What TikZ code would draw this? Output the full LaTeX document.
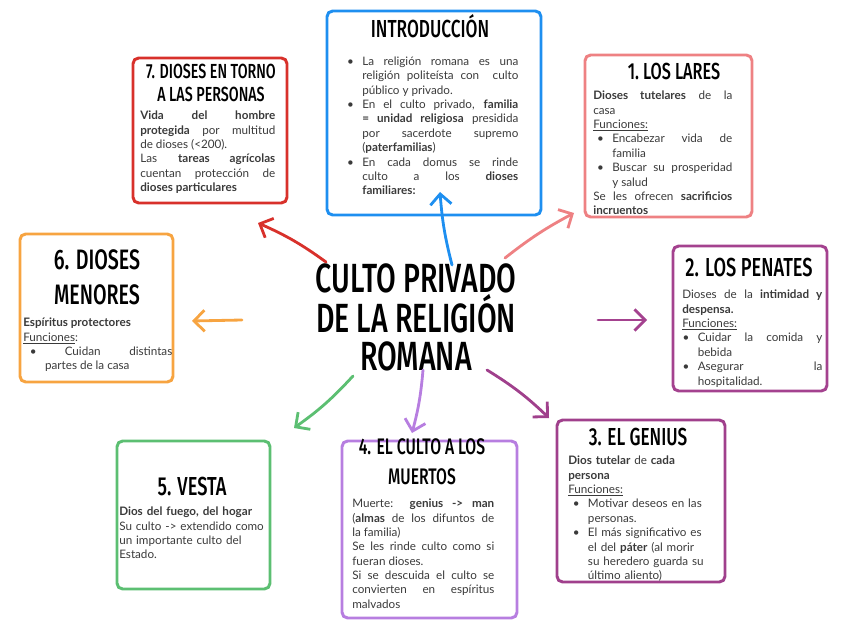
\documentclass[tikz,border=0pt]{standalone}
\usepackage{fontspec}
\setmainfont{Lato}
\newfontfamily\handfont[FakeStretch=0.7]{Fira Sans Medium}
\usepackage{enumitem}
\setlist[itemize]{label=\textbullet, labelsep=6pt, itemsep=0pt, topsep=0pt,
  parsep=0pt, partopsep=0pt}
\usetikzlibrary{arrows.meta,positioning,fit}

\definecolor{introblue}{HTML}{1E8FF0}
\definecolor{laressalmon}{HTML}{EE8183}
\definecolor{personasred}{HTML}{D8312B}
\definecolor{menoresorange}{HTML}{F7A441}
\definecolor{penatesplum}{HTML}{A4428F}
\definecolor{geniusplum}{HTML}{A0408C}
\definecolor{muertoslilac}{HTML}{B77EE0}
\definecolor{vestagreen}{HTML}{5CBF72}
\definecolor{bodygray}{HTML}{3A3A3A}

\newcommand{\bodysize}{\fontsize{8.3}{10.2}\selectfont
  \hyphenpenalty=10000 \exhyphenpenalty=10000 \tolerance=9999 \emergencystretch=30pt}

\begin{document}
\begin{tikzpicture}[x=0.025cm, y=-0.025cm,
  box/.style={draw=#1, line width=2.1pt, rounded corners=4pt, inner sep=0pt},
  heading/.style={anchor=base, inner sep=0pt, align=center,
                  font=\handfont\fontsize{#1}{#1}\selectfont},
  body/.style={anchor=north west, inner sep=0pt, text=bodygray,
               font=\bodysize, align=justify},
  link/.style={line width=2pt, line cap=round, draw=#1,
               -{Straight Barb[length=7.5pt, width=15pt, line width=2pt]}},
]
  \useasboundingbox (0,0) rectangle (848,636);

  % Center
  \node[heading=29, font=\handfont\fontsize{29}{26.5}\selectfont] (main) at (416,370)
    {CULTO PRIVADO\\DE LA RELIGIÓN\\ROMANA};

  % Introduccion
  \node[box=introblue, fit={(327,11) (541,215)}] (intro) {};
  \node[heading=17.5] (introtitle) at (430,38) {INTRODUCCIÓN};
  \node[body, text width=4.25cm] (introtext) at (348,51) {%
    \begin{itemize}[leftmargin=10pt]
    \item La religión romana es una\linebreak religión politeísta con\ \ culto\linebreak público y privado.
    \item En el culto privado, \textbf{familia}\linebreak \textbf{= unidad religiosa} presidida\linebreak por sacerdote supremo\linebreak (\textbf{paterfamilias})
    \item En cada domus se rinde\linebreak culto a los \textbf{dioses}\linebreak \textbf{familiares:}
    \end{itemize}};

  % 1. Los lares
  \node[box=laressalmon, fit={(585,55) (752,217)}] (lares) {};
  \node[heading=16.5] (larestitle) at (674,80) {1.\ LOS LARES};
  \node[body, text width=3.475cm] (larestext) at (593,91) {%
    \textbf{Dioses tutelares} de la\linebreak casa\par
    \underline{Funciones:}
    \begin{itemize}[leftmargin=13.5pt]
    \item Encabezar vida de\linebreak familia
    \item Buscar su prosperidad\linebreak y salud
    \end{itemize}
    Se les ofrecen \textbf{sacrificios}\linebreak \textbf{incruentos}};

  % 7. Dioses en torno a las personas
  \node[box=personasred, fit={(133,58) (287,203)}] (personas) {};
  \node[heading=14.5, font=\handfont\fontsize{14.5}{17}\selectfont] (personastitle) at (211,102)
    {7. DIOSES EN TORNO\\A LAS PERSONAS};
  \node[body, text width=3.375cm] (personastext) at (140,111) {%
    \textbf{Vida del hombre}\linebreak \textbf{protegida} por multitud\linebreak de dioses (<200).\par
    Las \textbf{tareas agrícolas}\linebreak cuentan protección de\linebreak \textbf{dioses particulares}};

  % 6. Dioses menores
  \node[box=menoresorange, fit={(20,234) (173,382)}] (menores) {};
  \node[heading=20, font=\handfont\fontsize{20}{25}\selectfont] (menorestitle) at (97,305)
    {6. DIOSES\\MENORES};
  \node[body, text width=3.725cm] (menorestext) at (23,318) {%
    \textbf{Espíritus protectores}\par
    \underline{Funciones}:
    \begin{itemize}[leftmargin=15.5pt]
    \item \hspace*{14pt}Cuidan distintas\linebreak partes de la casa
    \end{itemize}};

  % 2. Los penates
  \node[box=penatesplum, fit={(673,246) (827,391)}] (penates) {};
  \node[heading=18.5] (penatestitle) at (749,277) {2. LOS PENATES};
  \node[body, text width=3.5cm] (penatestext) at (682,290) {%
    Dioses de la \textbf{intimidad y}\linebreak \textbf{despensa.}\par
    \underline{Funciones:}
    \begin{itemize}[leftmargin=11pt]
    \item Cuidar la comida y\linebreak bebida
    \item Asegurar la\linebreak hospitalidad.
    \end{itemize}};

  % 3. El genius
  \node[box=geniusplum, fit={(557,420) (725,582)}] (genius) {};
  \node[heading=17.5] (geniustitle) at (638,445) {3. EL GENIUS};
  \node[body, text width=3.5cm, align=left] (geniustext) at (568,456) {%
    \textbf{Dios tutelar} de \textbf{cada}\\\textbf{persona}\par
    \underline{Funciones:}
    \begin{itemize}[leftmargin=14pt]
    \item Motivar deseos en las\\personas.
    \item El más significativo es\\el del \textbf{páter} (al morir\\su heredero guarda su\\último aliento)
    \end{itemize}};

  % 4. El culto a los muertos
  \node[box=muertoslilac, fit={(342,441) (517,618)}] (muertos) {};
  \node[heading=16, font=\handfont\fontsize{16}{21}\selectfont] (muertostitle) at (422,484)
    {4. EL CULTO A LOS\\MUERTOS};
  \node[body, text width=3.55cm] (muertostext) at (352,499) {%
    Muerte: \textbf{genius -> man}\linebreak (\textbf{almas} de los difuntos de\linebreak la familia)\par
    Se les rinde culto como si\linebreak fueran dioses.\par
    Si se descuida el culto se\linebreak convierten en espíritus\linebreak malvados};

  % 5. Vesta
  \node[box=vestagreen, fit={(117,441) (270,589)}] (vesta) {};
  \node[heading=18.5] (vestatitle) at (192,495) {5. VESTA};
  \node[body, text width=3.7cm, align=left] (vestatext) at (119,507) {%
    \textbf{Dios del fuego, del hogar}\par
    Su culto -> extendido como\\un importante culto del\\Estado.};

  % Arrows
  \coordinate (s7) at (326,262);  \coordinate (e7) at (258,223);
  \coordinate (si) at (452,265);  \coordinate (ei) at (440,192);
  \coordinate (s1) at (505,258);  \coordinate (e1) at (574,213);
  \coordinate (s6) at (242,320);  \coordinate (e6) at (192,321);
  \coordinate (s2) at (598,320);  \coordinate (e2) at (647,320);
  \coordinate (s5) at (353,376);  \coordinate (e5) at (294,428);
  \coordinate (s4) at (423,370);  \coordinate (e4) at (412,433);
  \coordinate (s3) at (487,370);  \coordinate (e3) at (549,418);

  \draw[link=personasred] (s7) to[bend right=6] (e7);
  \draw[link=introblue] (si) to[bend left=5] (ei);
  \draw[link=laressalmon] (s1) to[bend left=5] (e1);
  \draw[link=menoresorange] (s6) -- (e6);
  \draw[link=penatesplum] (s2) -- (e2);
  \draw[link=vestagreen] (s5) to[bend left=6] (e5);
  \draw[link=muertoslilac] (s4) to[bend left=5] (e4);
  \draw[link=geniusplum] (s3) to[bend left=6] (e3);
\end{tikzpicture}
\end{document}
